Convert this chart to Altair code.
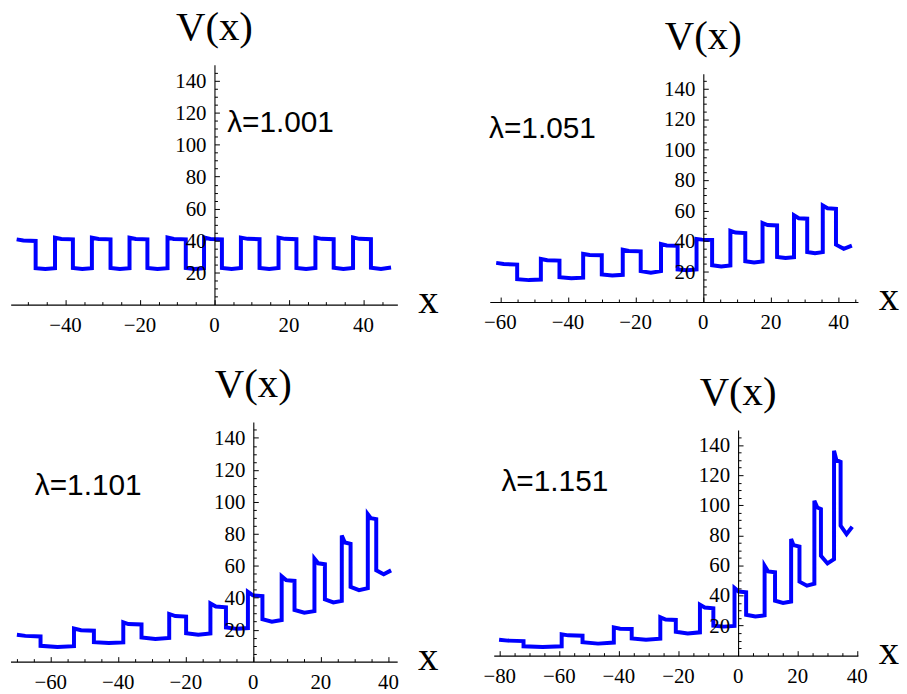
import altair as alt
import pandas as pd

# ---------------- values ----------------
lam_labels = ["λ=1.001", "λ=1.051", "λ=1.101", "λ=1.151"]

# panel 1 (lambda = 1.001): segment edges, segment middle x, and V at start / middle / end of each segment
p1_edges = [-53.1, -48.0, -42.8, -38.0, -32.9, -27.9, -22.8, -18.0, -12.6, -7.7, -2.8,
            2.0, 7.1, 12.1, 17.2, 22.0, 27.1, 32.0, 37.2, 42.0, 47.4]
p1_mids = [-51.3, -45.4, -41.1, -35.5, -31.1, -25.4, -21.1, -15.3, -10.9, -5.3,
           -1.1, 4.6, 8.9, 14.7, 18.9, 24.6, 28.8, 34.6, 38.9, 44.7]
p1_start = [40.8, 22.8, 41.8, 22.9, 41.8, 22.9, 41.8, 22.9, 41.9, 22.9,
            41.9, 22.9, 41.9, 22.9, 41.9, 22.9, 41.9, 23.0, 42.0, 23.0]
p1_midv = [40.1, 22.2, 41.0, 22.2, 41.0, 22.2, 41.0, 22.2, 41.0, 22.2,
           41.0, 22.3, 41.1, 22.3, 41.1, 22.3, 41.1, 22.3, 41.1, 22.3]
p1_end = [39.8, 22.8, 40.8, 22.8, 40.8, 22.8, 40.8, 22.8, 40.8, 22.8,
          40.8, 22.9, 40.9, 22.9, 40.9, 22.9, 40.9, 22.9, 40.9, 23.2]

# panel 2 (lambda = 1.051)
p2_edges = [-61.2, -55.0, -48.0, -42.5, -35.5, -30.0, -23.8, -18.5, -12.5, -7.6, -2.0,
            2.6, 8.0, 12.4, 17.5, 21.8, 26.8, 30.7, 35.3, 39.2, 43.9]
p2_mids = [-59.0, -51.5, -46.1, -39.0, -33.6, -26.9, -22.0, -15.5, -10.8, -4.8,
           -0.4, 5.3, 9.5, 15.0, 19.0, 24.3, 28.2, 33.0, 36.7, 41.5]
p2_start = [25.7, 15.0, 28.3, 16.3, 31.6, 18.1, 34.4, 20.3, 38.1, 21.4,
            41.4, 24.2, 46.8, 26.8, 51.9, 29.6, 56.9, 32.9, 63.4, 37.7]
p2_midv = [25.0, 14.4, 27.4, 15.6, 30.9, 17.4, 33.5, 19.3, 37.2, 20.9,
           41.0, 23.4, 45.6, 26.0, 50.6, 28.9, 55.0, 32.1, 61.6, 35.0]
p2_end = [24.6, 14.8, 27.2, 16.0, 30.7, 17.9, 33.3, 20.3, 37.0, 21.4,
          40.8, 24.0, 45.3, 26.6, 50.3, 29.4, 54.7, 32.8, 61.2, 37.0]

# panel 3 (lambda = 1.101)
p3_edges = [-70.0, -63.0, -53.1, -47.2, -38.5, -33.1, -24.9, -19.9, -12.7, -8.1, -1.6,
            2.7, 8.4, 12.2, 18.1, 21.2, 26.2, 28.8, 33.9, 36.4, 40.8]
p3_mids = [-67.5, -58.0, -51.0, -42.8, -37.0, -29.0, -23.1, -16.3, -11.1, -4.8,
           -0.1, 5.5, 9.7, 15.1, 19.2, 23.7, 27.1, 31.3, 34.8, 38.6]
p3_start = [16.8, 9.9, 20.7, 12.2, 24.6, 15.1, 29.8, 17.8, 36.4, 21.3,
            43.7, 26.5, 53.4, 32.3, 64.4, 38.9, 78.9, 46.8, 92.3, 57.1]
p3_midv = [16.1, 9.1, 19.6, 11.6, 23.5, 14.1, 28.5, 16.8, 34.5, 20.5,
           41.5, 25.0, 51.0, 30.6, 61.5, 37.0, 74.5, 44.7, 89.8, 54.7]
p3_end = [15.7, 9.7, 19.3, 12.0, 23.2, 14.8, 28.2, 17.6, 34.0, 21.0,
          41.0, 26.0, 50.5, 31.6, 60.9, 38.0, 73.7, 46.0, 89.2, 57.1]

# panel 4 (lambda = 1.151)
p4_edges = [-80.2, -72.0, -59.2, -52.2, -41.7, -35.7, -26.1, -20.9, -12.8, -8.3, -1.2,
            2.7, 8.9, 12.4, 17.8, 20.6, 25.6, 27.8, 32.2, 34.4, 38.3]
p4_mids = [-77.3, -65.6, -57.0, -47.0, -39.6, -30.9, -24.3, -16.9, -11.2, -4.8,
           0.2, 5.8, 10.1, 15.1, 18.6, 23.1, 26.6, 30.0, 33.0, 36.4]
p4_start = [10.6, 6.2, 14.2, 8.9, 18.8, 11.5, 25.5, 15.9, 33.9, 19.9,
            45.0, 27.2, 59.8, 36.5, 77.5, 49.2, 103.0, 66.4, 136.2, 86.4]
p4_midv = [10.0, 5.8, 13.5, 8.0, 17.9, 10.6, 24.0, 14.8, 32.0, 19.3,
           42.6, 26.1, 56.0, 35.0, 73.5, 46.5, 98.5, 61.3, 130.0, 80.8]
p4_end = [9.7, 6.2, 13.3, 8.7, 17.7, 11.3, 23.7, 15.5, 31.5, 19.8,
          42.1, 26.8, 55.4, 36.0, 72.6, 47.8, 97.5, 64.2, 128.9, 85.7]

y_major = [20, 40, 60, 80, 100, 120, 140]

W, H = 897, 686


def build(edges, mids, s, m, e):
    xs, ys = [], []
    for i in range(len(s)):
        xs += [edges[i], mids[i], edges[i + 1]]
        ys += [s[i], m[i], e[i]]
    return pd.DataFrame({"x": xs, "y": ys, "i": list(range(len(xs)))})


SERIF = "Liberation Serif"
SANS = "Liberation Sans"


def panel(df, xdom, xr, yr, xmaj, lam_text, lam_x, lam_y):
    sx = alt.Scale(domain=xdom, range=xr, nice=False, zero=False)
    sy = alt.Scale(domain=[0, 150], range=yr, nice=False, zero=False)
    x0 = xr[0] + (0 - xdom[0]) / (xdom[1] - xdom[0]) * (xr[1] - xr[0])
    y0 = yr[0]
    xminor = [v for v in range(-100, 100, 5) if v % 20 != 0 and xdom[0] <= v <= xdom[1]]
    yminor = [v for v in range(5, 150, 5) if v % 20 != 0]

    line = alt.Chart(df).mark_line(color="#0000ff", strokeWidth=4, strokeJoin="miter").encode(
        x=alt.X("x:Q", scale=sx, axis=alt.Axis(
            orient="bottom", offset=y0 - H, labels=False, ticks=False, tickSize=0,
            domainColor="black", domainWidth=1.1, grid=False, title=None, zindex=2)),
        y=alt.Y("y:Q", scale=sy, axis=alt.Axis(
            orient="left", offset=-x0, labels=False, ticks=False, tickSize=0,
            domainColor="black", domainWidth=1.1, grid=False, title=None, zindex=2)),
        order=alt.Order("i:Q"),
    )

    dummy = pd.DataFrame({"x": [0.0], "y": [0.0]})

    def tick_layer(xv, yv, size):
        return alt.Chart(dummy).mark_point(opacity=0).encode(
            x=alt.X("x:Q", scale=sx, axis=alt.Axis(
                orient="top", offset=-y0, values=xv, labels=False, domain=False,
                ticks=True, tickSize=size, tickColor="black", tickWidth=1,
                grid=False, title=None, zindex=2)),
            y=alt.Y("y:Q", scale=sy, axis=alt.Axis(
                orient="right", offset=x0 - W, values=yv, labels=False, domain=False,
                ticks=True, tickSize=size, tickColor="black", tickWidth=1,
                grid=False, title=None, zindex=2)),
        )

    tmaj = tick_layer(xmaj, y_major, 5)
    tmin = tick_layer(xminor, yminor, 3)

    # tick labels, placed through the panel's scales
    xl = pd.DataFrame({"v": xmaj, "z": [0] * len(xmaj)})
    xlabels = alt.Chart(xl).mark_text(
        font=SERIF, fontSize=21, align="center", baseline="alphabetic", dy=27.5,
        color="black").encode(
        x=alt.X("v:Q", scale=sx, axis=None),
        y=alt.Y("z:Q", scale=sy, axis=None),
        text=alt.Text("v:Q", format="d"),
    )
    yl = pd.DataFrame({"v": y_major, "z": [0] * len(y_major)})
    ylabels = alt.Chart(yl).mark_text(
        font=SERIF, fontSize=21, align="right", baseline="alphabetic", dx=-8, dy=7,
        color="black").encode(
        x=alt.X("z:Q", scale=sx, axis=None),
        y=alt.Y("v:Q", scale=sy, axis=None),
        text=alt.Text("v:Q", format="d"),
    )

    def text_layer(tx, ty, text, font, size, align, dx, dy):
        d = pd.DataFrame({"x": [tx], "y": [ty], "t": [text]})
        return alt.Chart(d).mark_text(
            font=font, fontSize=size, align=align, baseline="alphabetic",
            dx=dx, dy=dy, color="black").encode(
            x=alt.X("x:Q", scale=sx, axis=None),
            y=alt.Y("y:Q", scale=sy, axis=None),
            text="t:N",
        )

    vlab = text_layer(0, 150, "V(x)", SERIF, 41, "center", 0, -25)
    xlab = text_layer(xdom[1], 0, "x", SERIF, 41, "left", 21, 8.5)
    llab = text_layer(lam_x, lam_y, lam_text, SANS, 30, "left", 0, 0)

    return alt.layer(line, xlabels, ylabels, tmaj, tmin, vlab, xlab, llab).resolve_axis(
        x="independent", y="independent")


p1 = panel(build(p1_edges, p1_mids, p1_start, p1_midv, p1_end),
           [-54.7, 49.1], [2.7, 392.0], [296.3, 54.7],
           [-40, -20, 0, 20, 40], lam_labels[0], 3.4, 108.0)
p2 = panel(build(p2_edges, p2_mids, p2_start, p2_midv, p2_end),
           [-63.1, 45.7], [485.0, 855.7], [293.7, 63.8],
           [-60, -40, -20, 0, 20, 40], lam_labels[1], -63.3, 107.6)
p3 = panel(build(p3_edges, p3_mids, p3_start, p3_midv, p3_end),
           [-71.9, 42.6], [2.5, 391.8], [655.7, 414.4],
           [-60, -40, -20, 0, 20, 40], lam_labels[2], -64.7, 104.5)
p4 = panel(build(p4_edges, p4_mids, p4_start, p4_midv, p4_end),
           [-82.0, 40.2], [489.0, 855.6], [649.7, 422.6],
           [-80, -60, -40, -20, 0, 20, 40], lam_labels[3], -79.4, 109.4)

chart = alt.layer(p1, p2, p3, p4).resolve_scale(
    x="independent", y="independent"
).properties(
    width=W, height=H, autosize=alt.AutoSizeParams(type="none"), padding=0
).configure_view(
    stroke=None
)

chart.save("out.html", embed_options={"renderer": "svg", "actions": False})
